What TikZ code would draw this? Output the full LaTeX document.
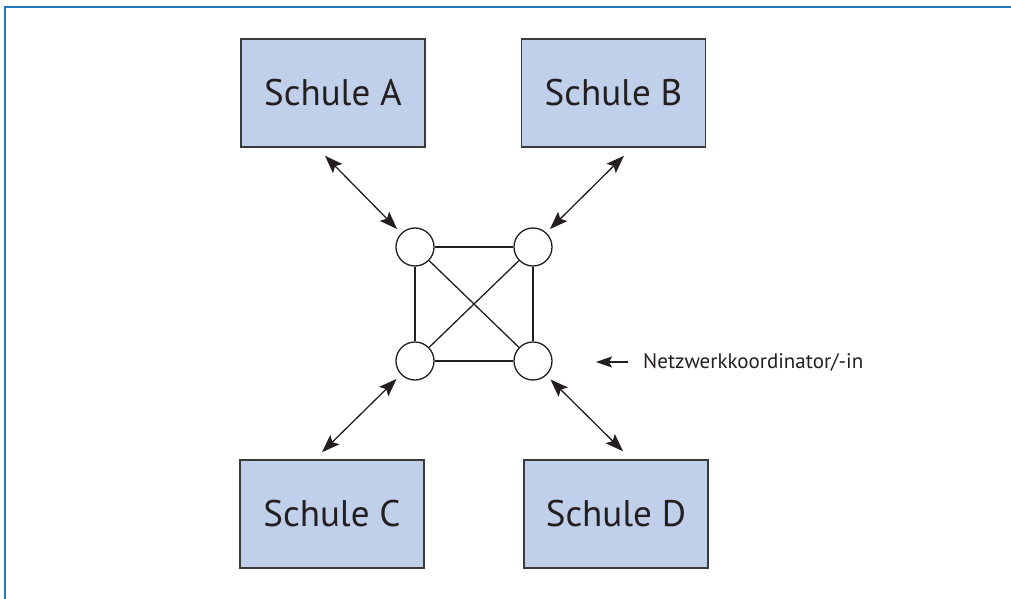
\documentclass[tikz,border=0pt]{standalone}
\usepackage{fontspec}
\setmainfont{PT Sans}
\usetikzlibrary{arrows.meta,calc}
\definecolor{boxfill}{HTML}{C1D0EA}
\definecolor{boxline}{HTML}{3A3A3A}
\definecolor{framecol}{HTML}{1F7AC4}
\definecolor{ink}{HTML}{231F20}
\begin{document}
\begin{tikzpicture}[x=1pt,y=-1pt,
  school/.style={draw=boxline,line width=1.5pt,fill=boxfill,minimum width=184pt,minimum height=108pt,inner sep=0pt,font=\fontsize{37}{40}\selectfont,text=ink},
  hub/.style={circle,draw=ink,line width=1.3pt,fill=white,minimum size=38pt,inner sep=0pt},
  link/.style={draw=ink,line width=1.3pt},
  dbl/.style={draw=ink,line width=1.3pt,{Stealth[length=18pt,width=13pt,inset=3.5pt]}-{Stealth[length=18pt,width=13pt,inset=3.5pt]}},
  single/.style={draw=ink,line width=1.3pt,-{Stealth[length=16pt,width=11pt,inset=3pt]}}
]
\useasboundingbox (0,0) rectangle (1011,599);
\draw[framecol,line width=2pt] (5,599) -- (5,7) -- (1011,7);

\node[school] (A) at (333,93) {Schule A};
\node[school] (B) at (613.5,93) {Schule B};
\node[school] (C) at (332,514) {Schule C};
\node[school] (D) at (616,514) {Schule D};

\node[hub] (c1) at (415,247) {};
\node[hub] (c2) at (533,247) {};
\node[hub] (c3) at (415,361) {};
\node[hub] (c4) at (533,361) {};

\draw[link] (c1) -- (c2);
\draw[link] (c3) -- (c4);
\draw[link] (c1) -- (c3);
\draw[link] (c2) -- (c4);
\draw[link] (c1) -- (c4);
\draw[link] (c2) -- (c3);

\draw[dbl] ($(A.south)+(-8,8)$) -- ($(c1.135)+(-4,-4)$);
\draw[dbl] ($(B.south)+(10.5,8)$) -- ($(c2.45)+(3,-4)$);
\draw[dbl] ($(C.north)+(-10,-7)$) -- ($(c3.-135)+(-4.5,4)$);
\draw[dbl] ($(D.north)+(7,-8)$) -- ($(c4.-45)+(3.5,4.5)$);

\node[anchor=west,font=\fontsize{21}{24}\selectfont,text=ink,inner sep=0pt] (lbl) at (643,362) {Netzwerkkoordinator/-in};
\coordinate (lblarrow) at ($(lbl.west)+(-47,0)$);
\draw[single] ($(lbl.west)+(-15,0)$) -- (lblarrow);
\end{tikzpicture}
\end{document}
